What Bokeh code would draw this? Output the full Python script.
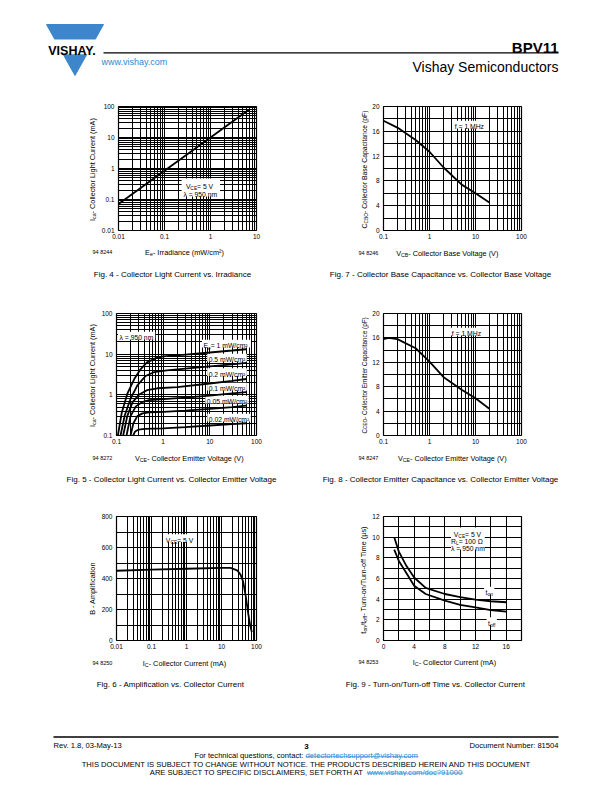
import math
from bokeh.plotting import figure
from bokeh.layouts import column, row
from bokeh.models import Label, FixedTicker, CustomJSTickFormatter, Range1d, Spacer
from bokeh.embed import file_html
from bokeh.resources import INLINE

FONT = "Liberation Sans"
LOGO_BLUE = "#3d86cb"
LINK_BLUE = "#2b8ad2"

# ---------------- data ----------------
# Fig. 4 - Collector light current vs. irradiance
fig4_irradiance = [0.01, 0.1, 1, 6.8]
fig4_current = [0.072, 0.85, 10, 78]
fig4_x_ticks = [0.01, 0.1, 1, 10]
fig4_y_ticks = [0.01, 0.1, 1, 10, 100]

# Fig. 7 - Collector base capacitance vs. collector base voltage
fig7_vcb = [0.1, 0.2, 0.5, 1, 2, 5, 10, 20]
fig7_ccbo = [17.7, 16.6, 14.6, 12.7, 10.2, 7.4, 6.0, 4.5]
fig7_x_ticks = [0.1, 1, 10, 100]
fig7_y_ticks = [0, 4, 8, 12, 16, 20]

# Fig. 5 - Collector light current vs. collector emitter voltage
fig5_irr_labels = ["1 mW/cm²", "0.5 mW/cm²", "0.2 mW/cm²", "0.1 mW/cm²", "0.05 mW/cm²", "0.02 mW/cm²"]
fig5_v_1 = [0.107, 0.13, 0.17, 0.24, 0.33, 0.45, 0.7, 1.0, 3, 10, 30, 60]
fig5_i_1 = [0.1, 0.37, 1.05, 2.45, 4.3, 6.3, 8.0, 8.8, 9.8, 11.0, 12.3, 13.2]
fig5_v_05 = [0.122, 0.15, 0.2, 0.28, 0.42, 0.63, 1.2, 3, 10, 30, 60]
fig5_i_05 = [0.1, 0.31, 0.8, 1.7, 2.9, 3.6, 4.0, 4.4, 5.0, 5.6, 6.1]
fig5_v_02 = [0.139, 0.17, 0.22, 0.3, 0.45, 0.75, 2, 10, 30, 60]
fig5_i_02 = [0.1, 0.3, 0.65, 1.0, 1.3, 1.45, 1.55, 1.9, 2.2, 2.45]
fig5_v_01 = [0.164, 0.2, 0.26, 0.35, 0.5, 1, 3, 10, 30, 60]
fig5_i_01 = [0.1, 0.3, 0.52, 0.66, 0.74, 0.78, 0.85, 0.96, 1.08, 1.16]
fig5_v_005 = [0.2, 0.23, 0.28, 0.36, 0.5, 1, 3, 10, 30, 60]
fig5_i_005 = [0.1, 0.2, 0.3, 0.35, 0.37, 0.38, 0.41, 0.45, 0.5, 0.54]
fig5_v_002 = [0.227, 0.25, 0.3, 0.4, 1, 3, 10, 30, 60]
fig5_i_002 = [0.1, 0.125, 0.14, 0.145, 0.15, 0.16, 0.176, 0.19, 0.2]
fig5_x_ticks = [0.1, 1, 10, 100]
fig5_y_ticks = [0.1, 1, 10, 100]

# Fig. 8 - Collector emitter capacitance vs. collector emitter voltage
fig8_vce = [0.1, 0.13, 0.2, 0.5, 1, 2, 5, 10, 20]
fig8_cceo = [15.8, 16.0, 15.8, 14.3, 12.1, 9.6, 7.5, 6.1, 4.4]
fig8_x_ticks = [0.1, 1, 10, 100]
fig8_y_ticks = [0, 4, 8, 12, 16, 20]

# Fig. 6 - Amplification vs. collector current
fig6_ic = [0.01, 0.1, 1, 10, 18, 28, 35, 41.5, 49.5, 58, 66, 73.5]
fig6_b = [450, 457, 463, 468, 469, 453, 425, 381, 283, 174, 98, 54]
fig6_x_ticks = [0.01, 0.1, 1, 10, 100]
fig6_y_ticks = [0, 200, 400, 600, 800]

# Fig. 9 - Turn-on / turn-off time vs. collector current
fig9_ic = [1.4, 2, 3, 4, 5.5, 8, 10, 12, 14, 16]
fig9_ton = [10.0, 8.6, 7.2, 6.1, 5.1, 4.5, 4.2, 3.95, 3.8, 3.7]
fig9_toff = [8.8, 7.7, 6.5, 5.3, 4.5, 3.85, 3.45, 3.2, 2.95, 2.8]
fig9_x_ticks = [0, 4, 8, 12, 16]
fig9_y_ticks = [0, 2, 4, 6, 8, 10, 12]

# ---------------- helpers ----------------
AW = {' ': 278, '!': 278, '(': 333, ')': 333, '-': 333, '.': 278, '/': 278, ',': 278, ':': 278,
      '=': 584, '?': 556, '@': 1015, '_': 556, '²': 333, 'λ': 556, 'Ω': 768, 'µ': 556,
      'A': 667, 'B': 667, 'C': 722, 'D': 722, 'E': 667, 'F': 611, 'G': 778, 'H': 722, 'I': 278,
      'J': 500, 'K': 667, 'L': 556, 'M': 833, 'N': 722, 'O': 778, 'P': 667, 'Q': 778, 'R': 722,
      'S': 667, 'T': 611, 'U': 722, 'V': 667, 'W': 944, 'X': 667, 'Y': 667, 'Z': 611,
      'a': 556, 'b': 556, 'c': 500, 'd': 556, 'e': 556, 'f': 278, 'g': 556, 'h': 556, 'i': 222,
      'j': 222, 'k': 500, 'l': 222, 'm': 833, 'n': 556, 'o': 556, 'p': 556, 'q': 556, 'r': 333,
      's': 500, 't': 278, 'u': 556, 'v': 500, 'w': 722, 'x': 500, 'y': 500, 'z': 500}
SUB = 0.72


def tw(text, size):
    return sum(AW.get(ch, 556) for ch in text) * size / 1000.0


def norm(segs, color="black"):
    if isinstance(segs, str):
        segs = [(segs, "n")]
    return [(s[0], s[1], s[2] if len(s) > 2 else color) for s in segs]


def total_width(segs, size):
    return sum(tw(t, size * (SUB if k == "s" else 1)) for t, k, c in norm(segs))


def fit(segs, size, avail):
    w = total_width(segs, size)
    return size if w <= avail else size * avail / w


def extent(X, segs, size, align="center"):
    total = total_width(segs, size)
    x0 = X - total / 2 if align == "center" else (X if align == "left" else X - total)
    return x0, x0 + total


def ident(X, Y):
    return X, Y


def put(p, mp, X, Y, segs, size, align="center", angle=0, color="black", bold=False):
    """Text whose vertical centre is at page point (X, Y); mp maps page -> data."""
    segs = norm(segs, color)
    rot = angle * math.pi / 180
    if len(segs) == 1 and segs[0][1] == "n":
        t, k, c = segs[0]
        drop = 0.35 * size
        x, y = (X, Y + drop) if angle == 0 else (X + drop, Y)
        dx, dy = mp(x, y)
        p.add_layout(Label(x=dx, y=dy, text=t, angle=rot, text_align=align,
                           text_baseline="alphabetic", text_font=FONT,
                           text_font_size=f"{size:.2f}px", text_color=c,
                           text_font_style="bold" if bold else "normal"))
        w = tw(t, size)
        x0 = X - w / 2 if align == "center" else (X if align == "left" else X - w)
        return [(x0, w)]
    widths = [tw(t, size * (SUB if k == "s" else 1)) for t, k, c in segs]
    total = sum(widths)
    off = -total / 2 if align == "center" else (0 if align == "left" else -total)
    out = []
    for (t, k, c), w in zip(segs, widths):
        fs = size * (SUB if k == "s" else 1)
        drop = 0.35 * size + (0.25 * size if k == "s" else 0)
        if angle == 0:
            x, y = X + off, Y + drop
        else:
            x, y = X + drop, Y - off
        dx, dy = mp(x, y)
        p.add_layout(Label(x=dx, y=dy, text=t, angle=rot, text_align="left",
                           text_baseline="alphabetic", text_font=FONT,
                           text_font_size=f"{fs:.2f}px", text_color=c,
                           text_font_style="bold" if bold else "normal"))
        out.append((X + off, w))
        off += w
    return out


def mapper(meta):
    (fx0, fy0, fx1, fy1), xt, xr, yt, yr = meta

    def conv(f, t, r):
        if t == "log":
            a, b = math.log10(r[0]), math.log10(r[1])
            return 10 ** (a + f * (b - a))
        return r[0] + f * (r[1] - r[0])

    def mp(X, Y):
        return (conv((X - fx0) / (fx1 - fx0), xt, xr), conv((fy1 - Y) / (fy1 - fy0), yt, yr))
    return mp


def wbox(p, mp, x0, y0, x1, y1):
    l, t = mp(x0, y0)
    r, b = mp(x1, y1)
    p.quad(left=[l], right=[r], top=[t], bottom=[b], fill_color="white", line_color=None)


def label_box(p, mp, X, Y, segs, size, align="center", pad=1.5):
    a, b = extent(X, segs, size, align)
    wbox(p, mp, a - pad, Y - 0.55 * size, b + pad, Y + 0.6 * size)


def log_grid(lo, hi):
    t = []
    for e in range(lo, hi):
        for m in range(1, 10):
            t.append(m * 10.0 ** e)
    t.append(10.0 ** hi)
    return t


def lin_grid(lo, hi, step):
    n = int(round((hi - lo) / step))
    return [lo + i * step for i in range(n + 1)]


def canvas(x0, y0, x1, y1, fy0=None, fy1=None):
    """Blank drawing area whose data coordinates are page pixels.
    fy0/fy1: vertical span of the frame when it is aligned with neighbouring charts."""
    fy0 = y0 if fy0 is None else fy0
    fy1 = y1 if fy1 is None else fy1
    c = figure(width=x1 - x0, height=y1 - y0, x_range=Range1d(x0, x1), y_range=Range1d(fy1, fy0),
               output_backend="svg", toolbar_location=None, title_location=None,
               min_border_left=0, min_border_right=0,
               min_border_top=fy0 - y0, min_border_bottom=y1 - fy1,
               x_axis_location=None, y_axis_location=None)
    c.grid.visible = False
    c.outline_line_color = None
    c.background_fill_color = "white"
    c.border_fill_color = "white"
    return c


def chart(ext, fr, xtype, ytype, xr, yr, xticks, xgrid, yticks, ygrid):
    x0, y0, x1, y1 = ext
    fx0, fy0, fx1, fy1 = fr
    p = figure(width=x1 - x0, height=y1 - y0, x_axis_type=xtype, y_axis_type=ytype,
               x_range=Range1d(*xr), y_range=Range1d(*yr),
               output_backend="svg", toolbar_location=None, title_location=None,
               min_border_left=fx0 - x0, min_border_right=x1 - fx1,
               min_border_top=fy0 - y0, min_border_bottom=y1 - fy1)
    p.background_fill_color = "white"
    p.border_fill_color = "white"
    p.outline_line_color = "black"
    p.outline_line_width = 1.2
    p.xgrid[0].ticker = FixedTicker(ticks=xgrid, minor_ticks=[])
    p.ygrid[0].ticker = FixedTicker(ticks=ygrid, minor_ticks=[])
    for g in (p.xgrid[0], p.ygrid[0]):
        g.grid_line_color = "black"
        g.grid_line_width = 1.0
        g.grid_line_alpha = 1.0
    for ax, ticks in ((p.xaxis[0], xticks), (p.yaxis[0], yticks)):
        ax.ticker = FixedTicker(ticks=ticks, minor_ticks=[])
        ax.formatter = CustomJSTickFormatter(code="return tick.toString()")
        ax.axis_line_color = None
        ax.major_tick_line_color = None
        ax.minor_tick_line_color = None
        ax.major_tick_out = 0
        ax.major_tick_in = 0
        ax.minor_tick_out = 0
        ax.minor_tick_in = 0
        ax.major_label_text_font = FONT
        ax.major_label_text_font_size = "6.5px"
        ax.major_label_text_color = "black"
    p.xaxis[0].major_label_standoff = 3
    p.yaxis[0].major_label_standoff = 4
    return p, mapper((fr, xtype, xr, ytype, yr))


def ylabel(c, X, fy0, fy1, segs, size):
    """Rotated axis title, centred on the frame and kept inside it."""
    s = fit(segs, size, (fy1 - fy0) - 4)
    put(c, ident, X, (fy0 + fy1) / 2, segs, s, angle=90)


LW = 1.8
AX = 7.3     # axis label size
CAP = 8      # caption size
ANN = 6.8    # annotation size
CODE = 5.5
W = 596
XA = 98      # right edge of the left label strip / left edge of left charts
XB = 369     # right edge of the middle label strip / left edge of right charts

# ---------------- header ----------------
hdr = canvas(0, 0, W, 95)
logo_x = [46, 103, 74.5]
logo_y = [24, 24, 75]
hdr.patch(logo_x, logo_y, color=LOGO_BLUE)
hdr.quad(left=[40], right=[99], top=[39.5], bottom=[53.3], color="white")
put(hdr, ident, 71.5, 46.5, "VISHAY.", 12.5, bold=True)
hdr.segment(x0=[103], y0=[52.3], x1=[558], y1=[52.3], line_color="black", line_width=1.3)
put(hdr, ident, 558, 42, "BPV11", 15, align="right", bold=True)
put(hdr, ident, 101, 58, "www.vishay.com", 9, align="left", color=LINK_BLUE)
put(hdr, ident, 558, 62, "Vishay Semiconductors", 14, align="right")

# ---------------- row 1 (page y 95..244, frames 106..230) ----------------
R1 = (95, 244, 106, 230)
A1 = canvas(0, R1[0], XA, R1[1], R1[2], R1[3])
B1 = canvas(264, R1[0], XB, R1[1], R1[2], R1[3])
S1 = canvas(0, 244, W, 300)

F4 = (116, 106, 256, 230)
p4, m4 = chart((XA, 95, 264, 244), F4, "log", "log", (0.01, 10), (0.01, 100),
               fig4_x_ticks, log_grid(-2, 1), fig4_y_ticks, log_grid(-2, 2))
wbox(p4, m4, 180, 178, 219, 196)
p4.line(fig4_irradiance, fig4_current, line_color="black", line_width=LW)
put(p4, m4, 199, 183.5, [("V", "n"), ("CE", "s"), (" = 5 V", "n")], ANN)
put(p4, m4, 199, 191.5, "λ = 950 nm", ANN)
ylabel(A1, 89, 106, 230, [("I", "n"), ("ca", "s"), (" - Collector Light Current (mA)", "n")], AX)
put(S1, ident, 185, 249, [("E", "n"), ("e", "s"), (" - Irradiance (mW/cm²)", "n")], AX)
put(S1, ident, 92, 249.5, "94 8244", CODE, align="left")
put(S1, ident, 172, 271, "Fig. 4 - Collector Light Current vs. Irradiance", CAP)

F7 = (382, 106, 521, 230)
p7, m7 = chart((XB, 95, 529, 244), F7, "log", "linear", (0.1, 100), (0, 20),
               fig7_x_ticks, log_grid(-1, 2), fig7_y_ticks, lin_grid(0, 20, 2))
label_box(p7, m7, 468.5, 124, "f = 1 MHz", ANN)
p7.line(fig7_vcb, fig7_ccbo, line_color="black", line_width=LW)
put(p7, m7, 468.5, 124, "f = 1 MHz", ANN)
ylabel(B1, 361.5, 106, 230, [("C", "n"), ("CBO", "s"), (" - Collector Base Capacitance (pF)", "n")], AX)
put(S1, ident, 448, 250, [("V", "n"), ("CB", "s"), (" - Collector Base Voltage (V)", "n")], AX)
put(S1, ident, 358, 250.5, "94 8246", CODE, align="left")
put(S1, ident, 440, 271, "Fig. 7 - Collector Base Capacitance vs. Collector Base Voltage", CAP)

# ---------------- row 2 (page y 300..449, frames 313..435) ----------------
R2 = (300, 449, 313, 435)
A2 = canvas(0, R2[0], XA, R2[1], R2[2], R2[3])
B2 = canvas(264, R2[0], XB, R2[1], R2[2], R2[3])
S2 = canvas(0, 449, W, 505)

F5 = (116, 313, 256, 435)
p5, m5 = chart((XA, 300, 264, 449), F5, "log", "log", (0.1, 100), (0.1, 100),
               fig5_x_ticks, log_grid(-1, 2), fig5_y_ticks, log_grid(-1, 2))
fig5_label_pos = [(226, 343), (226.5, 357), (226.5, 371.5), (226.5, 386), (226.5, 399), (228.5, 417)]
fig5_segs = []
for i, lab in enumerate(fig5_irr_labels):
    fig5_segs.append([("E", "n"), ("e", "s"), (" = " + lab, "n")] if i == 0 else lab)
label_box(p5, m5, 119, 335, "λ = 950 nm", ANN, align="left")
for segs, (lx, ly) in zip(fig5_segs, fig5_label_pos):
    label_box(p5, m5, lx, ly, segs, ANN)
for vx, iy in ((fig5_v_1, fig5_i_1), (fig5_v_05, fig5_i_05), (fig5_v_02, fig5_i_02),
               (fig5_v_01, fig5_i_01), (fig5_v_005, fig5_i_005), (fig5_v_002, fig5_i_002)):
    p5.line(vx, iy, line_color="black", line_width=LW)
put(p5, m5, 119, 335, "λ = 950 nm", ANN, align="left")
for segs, (lx, ly) in zip(fig5_segs, fig5_label_pos):
    put(p5, m5, lx, ly, segs, ANN)
ylabel(A2, 89, 313, 435, [("I", "n"), ("ca", "s"), (" - Collector Light Current (mA)", "n")], AX)
put(S2, ident, 190, 455, [("V", "n"), ("CE", "s"), (" - Collector Emitter Voltage (V)", "n")], AX)
put(S2, ident, 92, 455.5, "94 8272", CODE, align="left")
put(S2, ident, 171, 476, "Fig. 5 - Collector Light Current vs. Collector Emitter Voltage", CAP)

F8 = (382, 313, 521, 435)
p8, m8 = chart((XB, 300, 529, 449), F8, "log", "linear", (0.1, 100), (0, 20),
               fig8_x_ticks, log_grid(-1, 2), fig8_y_ticks, lin_grid(0, 20, 2))
label_box(p8, m8, 465.5, 331, "f = 1 MHz", ANN)
p8.line(fig8_vce, fig8_cceo, line_color="black", line_width=LW)
put(p8, m8, 465.5, 331, "f = 1 MHz", ANN)
ylabel(B2, 361.5, 313, 435, [("C", "n"), ("CEO", "s"), (" - Collector Emitter Capacitance (pF)", "n")], AX)
put(S2, ident, 453, 455, [("V", "n"), ("CE", "s"), (" - Collector Emitter Voltage (V)", "n")], AX)
put(S2, ident, 358, 455.5, "94 8247", CODE, align="left")
put(S2, ident, 440, 476, "Fig. 8 - Collector Emitter Capacitance vs. Collector Emitter Voltage", CAP)

# ---------------- row 3 (page y 505..654, frames 516..640) ----------------
R3 = (505, 654, 516, 640)
A3 = canvas(0, R3[0], XA, R3[1], R3[2], R3[3])
B3 = canvas(264, R3[0], XB, R3[1], R3[2], R3[3])
S3 = canvas(0, 654, W, 776)

F6 = (116, 516, 256, 640)
p6, m6 = chart((XA, 505, 264, 654), F6, "log", "linear", (0.01, 100), (0, 800),
               fig6_x_ticks, log_grid(-2, 2), fig6_y_ticks, lin_grid(0, 800, 100))
fig6_note = [("V", "n"), ("CE", "s"), (" = 5 V", "n")]
label_box(p6, m6, 180, 537.5, fig6_note, ANN)
p6.line(fig6_ic, fig6_b, line_color="black", line_width=LW)
put(p6, m6, 180, 537.5, fig6_note, ANN)
put(A3, ident, 89, 588, "B - Amplification", AX, angle=90)
put(S3, ident, 185, 660, [("I", "n"), ("C", "s"), (" - Collector Current (mA)", "n")], AX)
put(S3, ident, 92, 660.5, "94 8250", CODE, align="left")
put(S3, ident, 170, 681, "Fig. 6 - Amplification vs. Collector Current", CAP)

F9 = (382, 516, 521, 640)
p9, m9 = chart((XB, 505, 529, 654), F9, "linear", "linear", (0, 18), (0, 12),
               fig9_x_ticks, lin_grid(0, 18, 2), fig9_y_ticks, lin_grid(0, 12, 1))
ton_lab = [("t", "n"), ("on", "s")]
toff_lab = [("t", "n"), ("off", "s")]
wbox(p9, m9, 450, 527, 484, 549)
label_box(p9, m9, 488.5, 590, ton_lab, ANN)
label_box(p9, m9, 491, 620.5, toff_lab, ANN)
p9.line(fig9_ic, fig9_ton, line_color="black", line_width=LW)
p9.line(fig9_ic, fig9_toff, line_color="black", line_width=LW)
put(p9, m9, 467.5, 531.5, [("V", "n"), ("CE", "s"), (" = 5 V", "n")], ANN)
put(p9, m9, 467, 538.5, [("R", "n"), ("L", "s"), (" = 100 Ω", "n")], ANN)
put(p9, m9, 467, 545.5, "λ = 950 nm", ANN)
put(p9, m9, 488.5, 590, ton_lab, ANN)
put(p9, m9, 491, 620.5, toff_lab, ANN)
ylabel(B3, 360.5, 516, 640, [("t", "n"), ("on", "s"), ("/t", "n"), ("off", "s"),
                             (" - Turn-on/Turn-off Time (µs)", "n")], AX)
put(S3, ident, 455, 659.5, [("I", "n"), ("C", "s"), (" - Collector Current (mA)", "n")], AX)
put(S3, ident, 358, 660, "94 8253", CODE, align="left")
put(S3, ident, 435, 681, "Fig. 9 - Turn-on/Turn-off Time vs. Collector Current", CAP)

# ---------------- footer (inside bottom strip) ----------------
FS = 7.6
S3.segment(x0=[53], y0=[736.5], x1=[558], y1=[736.5], line_color="black", line_width=1.3)
put(S3, ident, 53, 742.5, "Rev. 1.8, 03-May-13", FS, align="left")
put(S3, ident, 306, 743, "3", 8, bold=True)
put(S3, ident, 558, 742.5, "Document Number: 81504", FS, align="right")
ext = put(S3, ident, 306, 752.5, [("For technical questions, contact: ", "n"),
                                  ("detectortechsupport@vishay.com", "n", LINK_BLUE)], FS)
S3.segment(x0=[ext[1][0]], y0=[756.2], x1=[ext[1][0] + ext[1][1]], y1=[756.2],
           line_color=LINK_BLUE, line_width=0.7)
put(S3, ident, 306, 761.5,
    "THIS DOCUMENT IS SUBJECT TO CHANGE WITHOUT NOTICE. THE PRODUCTS DESCRIBED HEREIN AND THIS DOCUMENT", FS)
ext2 = put(S3, ident, 306, 769.3, [("ARE SUBJECT TO SPECIFIC DISCLAIMERS, SET FORTH AT ", "n"),
                                   ("www.vishay.com/doc?91000", "n", LINK_BLUE)], FS)
S3.segment(x0=[ext2[1][0]], y0=[772.6], x1=[ext2[1][0] + ext2[1][1]], y1=[772.6],
           line_color=LINK_BLUE, line_width=0.7)


def band(A, pl, B, pr, h):
    return row(A, pl, B, pr, Spacer(width=W - 529, height=h))


layout = column(hdr,
                band(A1, p4, B1, p7, 149), S1,
                band(A2, p5, B2, p8, 149), S2,
                band(A3, p6, B3, p9, 149), S3)
open("out.html", "w").write(file_html(layout, INLINE))
